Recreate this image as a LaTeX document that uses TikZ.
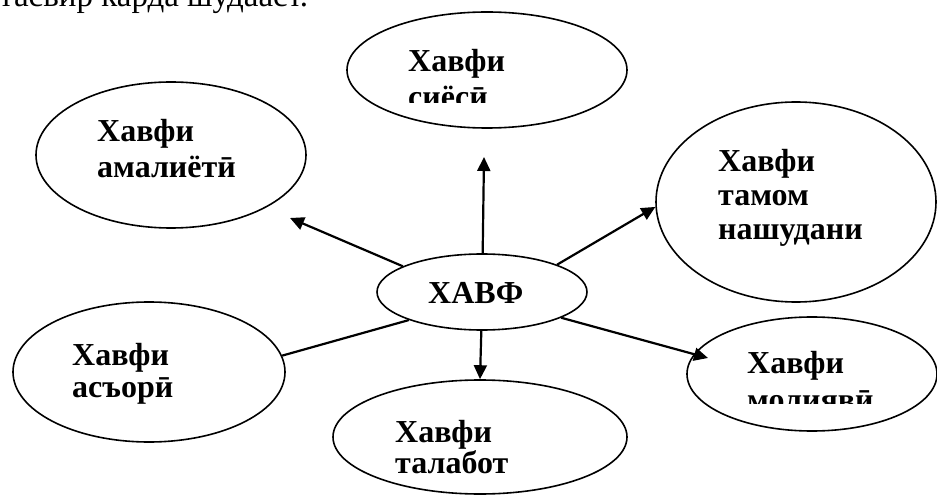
\documentclass[tikz,border=0pt]{standalone}
\usepackage{fontspec}
\setmainfont{Liberation Serif}
\usetikzlibrary{shapes.geometric,arrows.meta}

\newcommand{\riskbox}[1]{\parbox[t]{200pt}{\raggedright #1}}

\begin{document}
\begin{tikzpicture}[x=1pt,y=1pt,
    risk/.style={draw, ellipse, line width=1.6pt, inner sep=0pt},
    lbl/.style={anchor=base west, inner sep=0pt, font=\bfseries\fontsize{32}{#1}\selectfont},
    lbl/.default=35,
    link/.style={-{Triangle[length=14pt,width=13pt]}, line width=2.2pt}]
    \clip (0,0) rectangle (937,496);

    % line of text above the picture
    \node[anchor=base west, inner sep=0pt, font=\fontsize{33}{36}\selectfont] (intro) at (-1,489) {тасвир карда шудааст.};

    % ellipses
    \node[risk, minimum width=280, minimum height=116] (siyosi) at (487,426) {};
    \node[risk, minimum width=270, minimum height=146] (amali) at (171,341) {};
    \node[risk, minimum width=280, minimum height=200] (tamom) at (796,294) {};
    \node[risk, minimum width=210, minimum height=76] (hub) at (482,204) {};
    \node[risk, minimum width=272, minimum height=140] (asori) at (149,124) {};
    \node[risk, minimum width=294, minimum height=114] (talabot) at (480,59) {};
    \node[risk, minimum width=250, minimum height=114] (moliyavi) at (812,122) {};

    % texts
    \node[lbl] (hubtxt) at (428,193) {ХАВФ};
    \node[lbl=36] (amalitxt) at (97,354) {\riskbox{Хавфи\\амалиётӣ}};
    \node[lbl=34] (tamomtxt) at (718,324) {\riskbox{Хавфи\\тамом\\нашудани}};
    \node[lbl=32] (asoritxt) at (72,131) {\riskbox{Хавфи\\асъорӣ}};
    \node[lbl=31] (talabottxt) at (395,54) {\riskbox{Хавфи\\талабот}};
    \begin{scope}
      \clip (300,393) rectangle (650,496);
      \node[lbl=36] (siyositxt) at (408,424) {\riskbox{Хавфи\\сиёсӣ}};
    \end{scope}
    \begin{scope}
      \clip (690,93) rectangle (937,180);
      \node[lbl=37] (moliyavitxt) at (747,123) {\riskbox{Хавфи\\молиявӣ}};
    \end{scope}

    % connectors
    \coordinate (tipsiyo) at (484,339);
    \coordinate (tipamal) at (290,278);
    \coordinate (tipmol) at (708,138);
    \draw[link] (hub.89) -- (tipsiyo);
    \draw[link] (hub.162) -- (tipamal);
    \draw[link] (hub.20) -- (tamom.182);
    \draw[link] (hub.-18) -- (tipmol);
    \draw[link] (hub.-91) -- (talabot.north);
    \draw[line width=2.2pt] (hub.201) -- (asori.7);
\end{tikzpicture}
\end{document}
